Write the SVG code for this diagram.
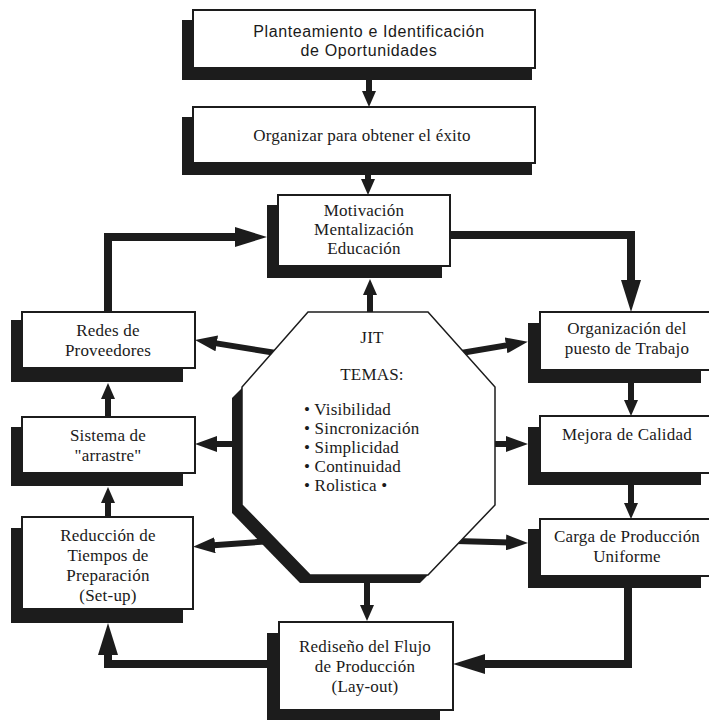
<svg xmlns="http://www.w3.org/2000/svg" width="709" height="720" viewBox="0 0 709 720">
<style>
.bg{fill:#ffffff}
.sh{fill:#1c1c1c}
.bx{fill:#ffffff;stroke:#1c1c1c;stroke-width:2}
.oct{fill:#ffffff;stroke:#1c1c1c;stroke-width:1.5}
.t{font-family:"Liberation Serif","Times New Roman",serif;font-size:17px;fill:#1a1a1a;text-anchor:middle;letter-spacing:0.2px}
.tl{font-family:"Liberation Serif","Times New Roman",serif;font-size:17px;fill:#1a1a1a;letter-spacing:0.2px}
.ts{font-family:"Liberation Sans",Arial,sans-serif;font-size:16px;fill:#1a1a1a;text-anchor:middle;letter-spacing:0.6px}
.big{fill:none;stroke:#1c1c1c;stroke-width:8;marker-end:url(#ah)}
.sm{fill:none;stroke:#1c1c1c;stroke-width:6;marker-end:url(#as)}
.sp{fill:none;stroke:#1c1c1c;stroke-width:6;marker-end:url(#asp)}
.mk{fill:#1c1c1c}
</style>
<defs>
<marker id="ah" markerUnits="userSpaceOnUse" markerWidth="32" markerHeight="20" refX="8" refY="10" orient="auto"><path class="mk" d="M0,0 L32,10 L0,20 z"/></marker>
<marker id="as" markerUnits="userSpaceOnUse" markerWidth="16" markerHeight="14" refX="4" refY="7" orient="auto"><path class="mk" d="M0,0 L16,7 L0,14 z"/></marker>
<marker id="asp" markerUnits="userSpaceOnUse" markerWidth="22" markerHeight="16" refX="5" refY="8" orient="auto"><path class="mk" d="M0,0 L22,8 L0,16 z"/></marker>
</defs>
<rect class="bg" x="0" y="0" width="709" height="720"/>

<g id="connectors">
<path class="sm" d="M369,80 V95"/>
<path class="sm" d="M368,175 V183"/>
<path class="sm" d="M370,314 V291"/>
<path class="sm" d="M367,581 V609"/>
<path class="big" d="M108,312 V237 H243"/>
<path class="big" d="M450,235 H631 V288"/>
<path class="big" d="M628,588 V664 H477"/>
<path class="big" d="M267,664 H108 V647"/>
<path class="sm" d="M108,417 V395"/>
<path class="sm" d="M108,517 V499"/>
<path class="sm" d="M631,383 V404"/>
<path class="sm" d="M631,485 V507"/>
<path class="sp" d="M276,353 L211.8,342.6"/>
<path class="sp" d="M246,444 L212,444"/>
<path class="sp" d="M272,541 L210,545.6"/>
<path class="sp" d="M461,353 L511,344.5"/>
<path class="sp" d="M491,444 L511,444"/>
<path class="sp" d="M456,541 L511,542.6"/>
</g>

<g id="n-planteamiento">
<rect class="sh" x="182" y="20" width="350" height="60"/>
<rect class="bx" x="193" y="10" width="342" height="58"/>
<text class="ts" x="369" y="37">Planteamiento e Identificación</text>
<text class="ts" x="369" y="56">de Oportunidades</text>
</g>

<g id="n-organizar">
<rect class="sh" x="182" y="117" width="350" height="58"/>
<rect class="bx" x="193" y="107" width="342" height="56"/>
<text class="t" x="362" y="141">Organizar para obtener el éxito</text>
</g>

<g id="n-motivacion">
<rect class="sh" x="267" y="205" width="175" height="73"/>
<rect class="bx" x="278" y="195" width="172" height="71"/>
<text class="t" x="364" y="216">Motivación</text>
<text class="t" x="364" y="235">Mentalización</text>
<text class="t" x="364" y="254">Educación</text>
</g>

<g id="n-redes">
<rect class="sh" x="11" y="320" width="172" height="62"/>
<rect class="bx" x="22" y="312" width="173" height="56"/>
<text class="t" x="108" y="336">Redes de</text>
<text class="t" x="108" y="356">Proveedores</text>
</g>

<g id="n-sistema">
<rect class="sh" x="11" y="427" width="172" height="59"/>
<rect class="bx" x="22" y="417" width="173" height="56"/>
<text class="t" x="108" y="441">Sistema de</text>
<text class="t" x="108" y="461">"arrastre"</text>
</g>

<g id="n-reduccion">
<rect class="sh" x="11" y="528" width="172" height="95"/>
<rect class="bx" x="22" y="517" width="171" height="92"/>
<text class="t" x="108" y="541">Reducción de</text>
<text class="t" x="108" y="561">Tiempos de</text>
<text class="t" x="108" y="581">Preparación</text>
<text class="t" x="108" y="601">(Set-up)</text>
</g>

<g id="n-organizacion">
<rect class="sh" x="528" y="323" width="173" height="60"/>
<rect class="bx" x="540" y="312" width="174" height="58"/>
<text class="t" x="627" y="334">Organización del</text>
<text class="t" x="627" y="354">puesto de Trabajo</text>
</g>

<g id="n-mejora">
<rect class="sh" x="528" y="427" width="173" height="58"/>
<rect class="bx" x="540" y="416" width="174" height="57"/>
<text class="t" x="627" y="440">Mejora de Calidad</text>
</g>

<g id="n-carga">
<rect class="sh" x="528" y="529" width="173" height="59"/>
<rect class="bx" x="540" y="519" width="174" height="57"/>
<text class="t" x="627" y="542">Carga de Producción</text>
<text class="t" x="627" y="562">Uniforme</text>
</g>

<g id="n-rediseno">
<rect class="sh" x="267" y="633" width="173" height="90"/>
<rect class="bx" x="279" y="622" width="174" height="88"/>
<text class="t" x="365" y="652">Rediseño del Flujo</text>
<text class="t" x="365" y="672">de Producción</text>
<text class="t" x="365" y="692">(Lay-out)</text>
</g>

<g id="n-jit">
<polygon class="sh" points="242,388 232,398 232,513 300,583 420,583 428,575 368,470"/>
<polygon class="oct" points="308,312 428,312 495,387 495,505 428,575 310,575 242,505 242,387"/>
<text class="t" x="372" y="343">JIT</text>
<text class="t" x="372" y="380">TEMAS:</text>
<text class="tl" x="304" y="415">• Visibilidad</text>
<text class="tl" x="304" y="434">• Sincronización</text>
<text class="tl" x="304" y="453">• Simplicidad</text>
<text class="tl" x="304" y="472">• Continuidad</text>
<text class="tl" x="304" y="491">• Rolistica •</text>
</g>
</svg>
